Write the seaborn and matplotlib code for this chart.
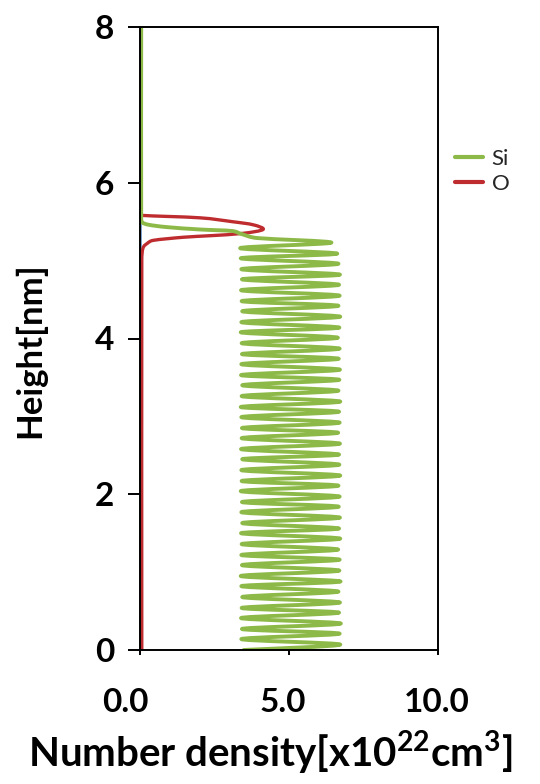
import numpy as np
import pandas as pd
import matplotlib
matplotlib.use("Agg")
import matplotlib.pyplot as plt
import seaborn as sns
from matplotlib.path import Path
from matplotlib.patches import PathPatch
from matplotlib.lines import Line2D
from matplotlib.transforms import ScaledTranslation

# ---- Si density profile: crystalline layers (bulk) ----
# height in nm, number density in 1e22 cm^-3
si_peak_height = [0.07, 0.21, 0.34, 0.48, 0.61, 0.75, 0.88, 1.02, 1.16, 1.29,
                  1.43, 1.56, 1.70, 1.84, 1.97, 2.11, 2.24, 2.38, 2.51, 2.65,
                  2.79, 2.92, 3.06, 3.19, 3.33, 3.47, 3.60, 3.74, 3.87, 4.01,
                  4.14, 4.28, 4.42, 4.55, 4.69, 4.82, 4.96, 5.09, 5.23]
si_peak_density = [6.72, 6.70, 6.74, 6.68, 6.71, 6.66, 6.73, 6.69, 6.70, 6.65,
                   6.72, 6.68, 6.71, 6.67, 6.70, 6.66, 6.72, 6.69, 6.68, 6.71,
                   6.65, 6.70, 6.68, 6.72, 6.66, 6.69, 6.71, 6.67, 6.70, 6.64,
                   6.69, 6.72, 6.66, 6.70, 6.68, 6.71, 6.66, 6.62, 6.42]
si_valley_height = [0.00, 0.14, 0.27, 0.41, 0.54, 0.68, 0.82, 0.95, 1.09, 1.22,
                    1.36, 1.50, 1.63, 1.77, 1.90, 2.04, 2.17, 2.31, 2.45, 2.58,
                    2.72, 2.85, 2.99, 3.12, 3.26, 3.40, 3.53, 3.67, 3.80, 3.94,
                    4.08, 4.21, 4.35, 4.48, 4.62, 4.76, 4.89, 5.03, 5.16]
si_valley_density = [3.48, 3.40, 3.42, 3.39, 3.41, 3.43, 3.40, 3.38, 3.42, 3.40,
                     3.41, 3.39, 3.43, 3.40, 3.42, 3.38, 3.41, 3.40, 3.43, 3.39,
                     3.41, 3.42, 3.40, 3.38, 3.41, 3.43, 3.39, 3.40, 3.42, 3.41,
                     3.38, 3.40, 3.43, 3.41, 3.39, 3.42, 3.40, 3.38, 3.36]
# Si surface region and vacuum above
si_surface_density = [3.93, 3.42, 3.10, 2.01, 0.91, 0.30, 0.08, 0.04, 0.04]
si_surface_height = [5.29, 5.34, 5.38, 5.40, 5.43, 5.46, 5.49, 5.55, 8.00]

# ---- O density profile (surface oxide) ----
o_density = [0.04, 0.04, 0.10, 2.00, 3.10, 3.80, 4.13, 3.45, 2.35, 1.45,
             0.44, 0.24, 0.10, 0.06, 0.06]
o_height = [8.00, 5.60, 5.58, 5.55, 5.50, 5.46, 5.40, 5.35, 5.32, 5.30,
            5.26, 5.22, 5.16, 5.00, 0.00]

# ---- third species, near zero everywhere ----
h_density = [0.02, 0.02]
h_height = [0.00, 8.00]

x_ticks = [0, 5, 10]
x_tick_labels = ["0.0", "5.0", "10.0"]
y_ticks = [0, 2, 4, 6, 8]
y_tick_labels = ["0", "2", "4", "6", "8"]

GREEN = "#8DB948"
RED = "#BF2C2F"
BLUE = "#4A7EBB"

sns.set_theme(style="white")
plt.rcParams["font.family"] = ["Lato", "DejaVu Sans"]
plt.rcParams["mathtext.fontset"] = "custom"
plt.rcParams["mathtext.bf"] = "Lato:bold"
plt.rcParams["mathtext.rm"] = "Lato"

# build the Si path: valley -> peak for each layer, then the surface tail
si_x, si_y = [], []
for vd, vh, pd_, ph in zip(si_valley_density, si_valley_height,
                           si_peak_density, si_peak_height):
    si_x += [vd, pd_]
    si_y += [vh, ph]
si_x += si_surface_density
si_y += si_surface_height

si_df = pd.DataFrame({"density": si_x, "height": si_y})
o_df = pd.DataFrame({"density": o_density, "height": o_height})
h_df = pd.DataFrame({"density": h_density, "height": h_height})

fig = plt.figure(figsize=(5.4, 7.84), dpi=100)
ax = fig.add_axes([140 / 540, 1 - 650 / 784, 298 / 540, 623 / 784])
ax.set_xlim(0, 10)
ax.set_ylim(0, 8)

LW = 2.8
sns.lineplot(data=h_df, x="density", y="height", sort=False, estimator=None,
             color=BLUE, lw=1.6, ax=ax)
sns.lineplot(data=o_df, x="density", y="height", sort=False, estimator=None,
             color=RED, lw=2.4, ax=ax)
sns.lineplot(data=si_df, x="density", y="height", sort=False, estimator=None,
             color=GREEN, lw=LW, ax=ax)


def smooth_path(ax, xs, ys):
    """Cubic Bezier path through the points (spreadsheet-style smoothed line)."""
    pts = ax.transData.transform(np.column_stack([xs, ys]))
    n = len(pts)
    verts = [pts[0]]
    codes = [Path.MOVETO]

    def clip(v, lim):
        L = np.hypot(*v)
        return v if L <= lim or L == 0 else v * (lim / L)

    for i in range(n - 1):
        p0 = pts[max(i - 1, 0)]
        p1 = pts[i]
        p2 = pts[i + 1]
        p3 = pts[min(i + 2, n - 1)]
        seg = np.hypot(*(p2 - p1))
        c1 = p1 + clip((p2 - p0) / 6.0, seg / 2)
        c2 = p2 - clip((p3 - p1) / 6.0, seg / 2)
        verts += [c1, c2, p2]
        codes += [Path.CURVE4] * 3
    verts = ax.transData.inverted().transform(np.array(verts))
    return Path(verts, codes)


# redraw each seaborn line as a smoothed curve
for line in list(ax.lines):
    xy = line.get_xydata()
    patch = PathPatch(smooth_path(ax, xy[:, 0], xy[:, 1]), facecolor="none",
                      edgecolor=line.get_color(), lw=line.get_linewidth(),
                      zorder=line.get_zorder(), capstyle="round",
                      joinstyle="round", transform=ax.transData)
    ax.add_patch(patch)
    line.set_visible(False)

# axes frame and ticks
for s in ax.spines.values():
    s.set_visible(True)
    s.set_color("black")
    s.set_linewidth(1.4)

ax.set_xticks(x_ticks)
ax.set_xticklabels(x_tick_labels)
ax.set_yticks(y_ticks)
ax.set_yticklabels(y_tick_labels)
ax.tick_params(axis="y", direction="out", length=8.5, width=1.4, pad=10,
               labelsize=24, colors="black", left=True)
ax.tick_params(axis="x", direction="out", length=3.5, width=1.4, pad=24,
               labelsize=24, colors="black", bottom=True)
for lab in ax.get_xticklabels() + ax.get_yticklabels():
    lab.set_fontweight("bold")
for lab, dx in zip(ax.get_xticklabels(), [-15, -6, -1]):
    lab.set_transform(lab.get_transform() +
                      ScaledTranslation(dx / 100, 0, fig.dpi_scale_trans))
ax.grid(False)

ax.set_xlabel(r"Number density[x10$^{\mathbf{22}}$cm$^{\mathbf{3}}$]",
              fontsize=29, fontweight="bold", color="black")
ax.xaxis.set_label_coords((270 - 140) / 298, -(729 - 650) / 623)
ax.xaxis.label.set_va("top")
ax.set_ylabel("Height[nm]", fontsize=25, fontweight="bold", color="black")
ax.yaxis.set_label_coords(-(140 - 46) / 298, (650 - 350) / 623)

handles = [Line2D([], [], color=GREEN, lw=3.0),
           Line2D([], [], color=RED, lw=3.0)]
fig.legend(handles, ["Si", "O"], loc="center left",
           bbox_to_anchor=(455 / 540, 1 - 171.5 / 784),
           bbox_transform=fig.transFigure, frameon=False, fontsize=16,
           handlelength=1.25, handletextpad=0.4, labelspacing=0.2,
           borderpad=0, borderaxespad=0)

fig.savefig("out.png", dpi=100, facecolor="white")
